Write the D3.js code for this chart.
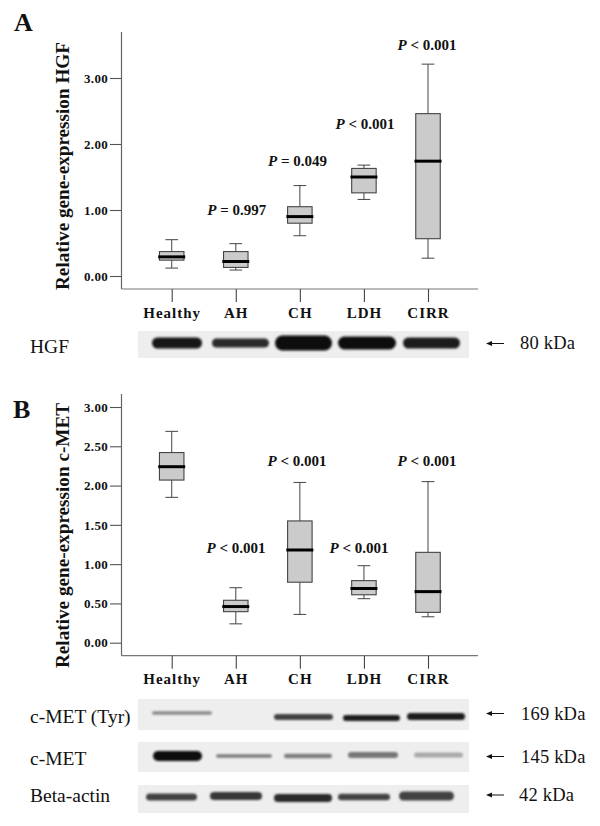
<!DOCTYPE html>
<html><head><meta charset="utf-8">
<style>
html,body{margin:0;padding:0;background:#fff}
svg{display:block}
text{font-family:"Liberation Serif",serif;fill:#111}
</style>
<script src="https://cdn.jsdelivr.net/npm/d3@7"></script>
</head><body><div id="c"></div>
<script>
const categories = ["Healthy","AH","CH","LDH","CIRR"];
// values: [low whisker, q1, median, q3, high whisker]
const hgfHealthy = [0.12,0.24,0.29,0.37,0.55];
const hgfAH      = [0.09,0.13,0.22,0.37,0.49];
const hgfCH      = [0.61,0.80,0.90,1.05,1.37];
const hgfLDH     = [1.16,1.26,1.50,1.63,1.68];
const hgfCIRR    = [0.27,0.565,1.74,2.46,3.21];
const metHealthy = [1.85,2.07,2.24,2.42,2.69];
const metAH      = [0.24,0.395,0.46,0.54,0.70];
const metCH      = [0.36,0.77,1.18,1.55,2.04];
const metLDH     = [0.56,0.61,0.69,0.79,0.98];
const metCIRR    = [0.33,0.386,0.65,1.15,2.05];
const hgfTicks = [0,1,2,3];
const metTicks = [0,0.5,1,1.5,2,2.5,3];
const hgfP = ["P|= 0.997","P|= 0.049","P|< 0.001","P|< 0.001"];
const metP = ["P|< 0.001","P|< 0.001","P|< 0.001","P|< 0.001"];
// band darkness per lane, 0..1
const hgfBlot = [0.97,0.88,1,0.98,0.92];
const tyrBlot = [0.5,0,0.78,0.92,0.92];
const metBlot = [1,0.55,0.55,0.58,0.35];
const actinBlot = [0.78,0.82,0.88,0.78,0.78];

const svg = d3.select("#c").append("svg").attr("width",600).attr("height",826);
const defs = svg.append("defs");
defs.append("filter").attr("id","soft").attr("x","-10%").attr("y","-60%").attr("width","120%").attr("height","220%")
  .append("feGaussianBlur").attr("stdDeviation","1.1 0.8");

function panel(cfg){
  const g = svg.append("g");
  const x = d3.scalePoint().domain(categories).range([171.7,428]);
  const y = d3.scaleLinear().domain([0,3]).range(cfg.yRange);
  g.append("line").attr("x1",121.5).attr("x2",121.5).attr("y1",cfg.top).attr("y2",cfg.bottom).attr("stroke","#666").attr("stroke-width",1.2);
  g.append("line").attr("x1",121.5).attr("x2",478).attr("y1",cfg.bottom).attr("y2",cfg.bottom).attr("stroke","#777").attr("stroke-width",1.2);
  const ay = g.append("g").attr("transform","translate(121.5,0)")
    .call(d3.axisLeft(y).tickValues(cfg.ticks).tickFormat(d3.format(".2f")).tickSize(11.5).tickPadding(2));
  ay.select(".domain").remove();
  ay.selectAll("line").attr("stroke","#555").attr("stroke-width",1.1);
  ay.selectAll("text").attr("font-size",13).attr("font-weight","bold").attr("font-family","Liberation Serif").attr("letter-spacing",0.3);
  const ax = g.append("g").attr("transform",`translate(0,${cfg.bottom})`)
    .call(d3.axisBottom(x).tickSize(13).tickPadding(5));
  ax.select(".domain").remove();
  ax.selectAll("line").attr("stroke","#444").attr("stroke-width",1.1);
  ax.selectAll("text").attr("font-size",15).attr("font-weight","bold").attr("font-family","Liberation Serif").attr("letter-spacing",1);
  g.append("text").attr("transform",`translate(69,${cfg.titleY}) rotate(-90)`).attr("text-anchor","middle")
    .attr("font-size",cfg.titleSize).attr("font-weight","bold").text(cfg.title);
  const bw=24.5, mw=27, cw=12.7;
  const b = g.selectAll(".b").data(cfg.series).join("g").attr("transform",(d,i)=>`translate(${x(categories[i])},0)`);
  b.append("line").attr("y1",d=>y(d[4])).attr("y2",d=>y(d[3])).attr("stroke","#555").attr("stroke-width",1.1);
  b.append("line").attr("y1",d=>y(d[1])).attr("y2",d=>y(d[0])).attr("stroke","#555").attr("stroke-width",1.1);
  b.append("line").attr("x1",-cw/2).attr("x2",cw/2).attr("y1",d=>y(d[4])).attr("y2",d=>y(d[4])).attr("stroke","#444").attr("stroke-width",1);
  b.append("line").attr("x1",-cw/2).attr("x2",cw/2).attr("y1",d=>y(d[0])).attr("y2",d=>y(d[0])).attr("stroke","#444").attr("stroke-width",1);
  b.append("rect").attr("x",-bw/2).attr("width",bw).attr("y",d=>y(d[3])).attr("height",d=>y(d[1])-y(d[3]))
    .attr("fill","#cbcbcb").attr("stroke","#444").attr("stroke-width",1.1);
  b.append("line").attr("x1",-mw/2).attr("x2",mw/2).attr("y1",d=>y(d[2])).attr("y2",d=>y(d[2])).attr("stroke","#000").attr("stroke-width",3);
  cfg.pLabels.forEach(p=>{
    const parts = p.label.split("|");
    const t = g.append("text").attr("x",p.x).attr("y",p.y).attr("font-size",15).attr("font-weight","bold").attr("text-anchor","middle");
    t.append("tspan").attr("font-style","italic").text(parts[0]);
    t.append("tspan").text(" "+parts[1]);
  });
}

panel({series:[hgfHealthy,hgfAH,hgfCH,hgfLDH,hgfCIRR],ticks:hgfTicks,yRange:[276,78],top:32,bottom:289,
  title:"Relative gene-expression HGF",titleY:166,titleSize:19.2,
  pLabels:[{label:hgfP[0],x:236.7,y:215},{label:hgfP[1],x:297.5,y:166},{label:hgfP[2],x:365,y:129},{label:hgfP[3],x:427,y:50}]});
panel({series:[metHealthy,metAH,metCH,metLDH,metCIRR],ticks:metTicks,yRange:[642.7,407],top:394,bottom:655.7,
  title:"Relative gene-expression c-MET",titleY:535.5,titleSize:19.2,
  pLabels:[{label:metP[0],x:236,y:553},{label:metP[1],x:297,y:466},{label:metP[2],x:359,y:553},{label:metP[3],x:427,y:466}]});

svg.append("text").attr("x",14).attr("y",31).attr("font-size",26).attr("font-weight","bold").text("A");
svg.append("text").attr("x",13).attr("y",418).attr("font-size",26).attr("font-weight","bold").text("B");

function blot(cfg){
  const g = svg.append("g");
  g.append("rect").attr("x",138).attr("width",331).attr("y",cfg.y0).attr("height",cfg.y1-cfg.y0).attr("fill","#eeeeee");
  const shade = d3.scaleLinear().domain([0,0.5,1]).range(["#eeeeee","#8a8a8a","#0a0a0a"]);
  cfg.values.forEach((v,i)=>{
    if(v<=0) return;
    const l = cfg.lanes[i];
    g.append("rect").attr("x",l[0]).attr("width",l[1]-l[0]).attr("y",l[2]-l[3]/2).attr("height",l[3])
      .attr("rx",l[3]/2).attr("fill",shade(v)).attr("filter","url(#soft)");
  });
  svg.append("text").attr("x",30).attr("y",cfg.labelY).attr("font-size",19.5).text(cfg.label);
  svg.append("line").attr("x1",489).attr("x2",504).attr("y1",cfg.arrowY).attr("y2",cfg.arrowY).attr("stroke","#111").attr("stroke-width",1);
  svg.append("path").attr("d",d3.line()([[486,cfg.arrowY],[492,cfg.arrowY-2.5],[492,cfg.arrowY+2.5]])+"Z").attr("fill","#111");
  svg.append("text").attr("x",cfg.kdaX).attr("y",cfg.kdaY).attr("font-size",18.5).attr("letter-spacing",0.2).text(cfg.kda);
}
blot({values:hgfBlot,y0:331,y1:358,label:"HGF",labelY:353,arrowY:343.5,kda:"80 kDa",kdaX:520,kdaY:348.5,
  lanes:[[152,202,343,11],[212,269,343,9],[275,332,343,15],[338,396,343,13],[403,460,343,11]]});
blot({values:tyrBlot,y0:699,y1:730,label:"c-MET (Tyr)",labelY:723,arrowY:713.5,kda:"169 kDa",kdaX:521,kdaY:719.5,
  lanes:[[152,212,713,3.5],[0,0,0,0],[274,333,717,6],[343,400,718,6],[407,465,716.5,7]]});
blot({values:metBlot,y0:742,y1:772,label:"c-MET",labelY:765,arrowY:756.5,kda:"145 kDa",kdaX:521,kdaY:763,
  lanes:[[153,202,756,10],[216,272,756,3.5],[284,332,756,4.5],[348,398,755,6],[414,463,755,5]]});
blot({values:actinBlot,y0:785,y1:813,label:"Beta-actin",labelY:802,arrowY:795,kda:"42 kDa",kdaX:519,kdaY:801,
  lanes:[[146,197,797,7],[210,262,796,8],[274,332,798,8],[338,390,797,6.5],[399,454,796,9]]});
</script></body></html>
